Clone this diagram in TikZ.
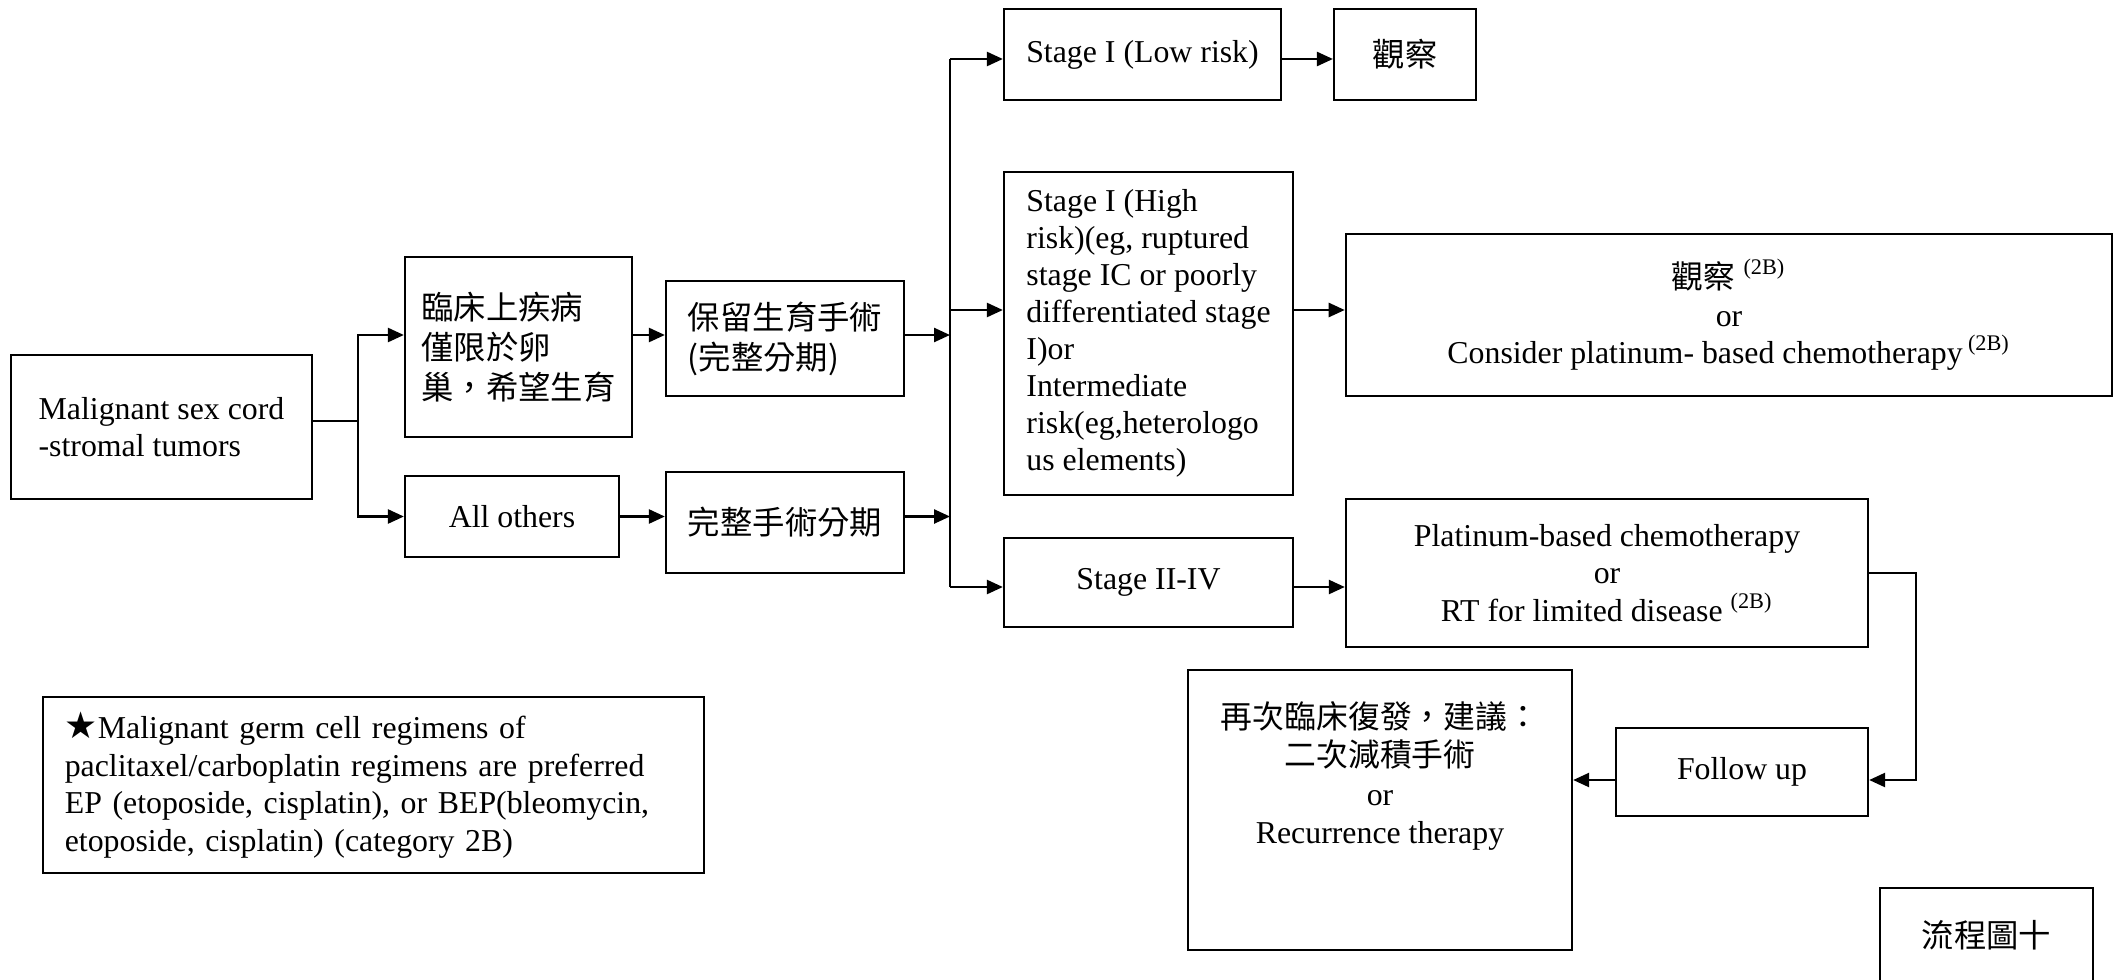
\documentclass[tikz,border=0pt]{standalone}
\usepackage{fontspec}
\setmainfont{Liberation Serif}
\newfontfamily\cjk{Noto Sans CJK TC}
\newfontfamily\symf{DejaVu Sans}
\usetikzlibrary{arrows.meta}
\begin{document}
\begin{tikzpicture}[x=0.01cm,y=-0.01cm,
  box/.style={draw, line width=0.6pt, inner sep=0pt, align=center, font=\fontsize{9.05}{10.7}\selectfont},
  lbox/.style={box, align=left},
  cjkf/.style={font=\cjk\fontsize{9.2}{11.4}\selectfont},
  txt/.style={inner sep=0pt, align=center, font=\fontsize{9.05}{10.9}\selectfont},
  ln/.style={line width=0.7pt},
  arr/.style={line width=0.7pt, -{Triangle[length=0.16cm,width=0.14cm]}}]
\useasboundingbox (0,0) rectangle (2119,979);

% boxes
\node[lbox, minimum width=3.01cm, minimum height=1.44cm] (A) at (161.5,427) {Malignant sex cord\\-stromal tumors};
\node[lbox, cjkf, minimum width=2.27cm, minimum height=1.80cm] (B) at (518.5,347) {臨床上疾病\\僅限於卵\\巢，希望生育};
\node[box, minimum width=2.14cm, minimum height=0.81cm] (C) at (512,516.5) {All others};
\node[lbox, cjkf, minimum width=2.38cm, minimum height=1.15cm] (D) at (785,338.5) {保留生育手術\\(完整分期)};
\node[box, cjkf, minimum width=2.38cm, minimum height=1.01cm] (E) at (785,522.5) {完整手術分期};
\node[box, minimum width=2.77cm, minimum height=0.91cm] (F) at (1142.5,54.5) {Stage I (Low risk)};
\node[box, cjkf, minimum width=1.42cm, minimum height=0.91cm] (F2) at (1405,54.5) {觀察};
\node[lbox, minimum width=2.89cm, minimum height=3.23cm, font=\fontsize{9.05}{10.5}\selectfont] (G) at (1148.5,333.5)
  {Stage I (High\\risk)(eg, ruptured\\stage IC or poorly\\differentiated stage\\I)or\\Intermediate\\risk(eg,heterologo\\us elements)};
\node[box, minimum width=2.89cm, minimum height=0.89cm] (H) at (1148.5,582.5) {Stage II-IV};
\node[box, minimum width=7.66cm, minimum height=1.62cm] (I) at (1729,315)
  {{\cjk 觀察} \textsuperscript{(2B)}\\or\\Consider platinum- based chemotherapy\,\textsuperscript{(2B)}};
\node[box, minimum width=5.22cm, minimum height=1.48cm] (J) at (1607,573)
  {Platinum-based chemotherapy\\or\\RT for limited disease \textsuperscript{(2B)}};
\node[box, minimum width=2.52cm, minimum height=0.88cm] (K) at (1742,772) {Follow up};
\node[box, minimum width=3.84cm, minimum height=2.80cm] (L) at (1380,810) {};
\node[txt] (Lt) at (1380,776) {{\cjk 再次臨床復發，建議：}\\{\cjk 二次減積手術}\\or\\Recurrence therapy};
\node[box, minimum width=2.13cm, minimum height=1.30cm] (M) at (1986.5,953) {};
\node[txt, cjkf] (Mt) at (1986.5,935) {流程圖十};
\node[box, align=left, text width=6.17cm, inner xsep=0.22cm, minimum height=1.76cm] (N) at (373.5,785)
  {{\symf\fontsize{10.5}{10}\selectfont ★}Malignant germ cell regimens of\\paclitaxel/carboplatin regimens are preferred\\EP (etoposide, cisplatin), or BEP(bleomycin,\\etoposide, cisplatin) (category 2B)};

% junction coordinates
\coordinate (j1) at (358,421);
\coordinate (jB) at (358,335);
\coordinate (jC) at (358,516.5);
\coordinate (vTop) at (950,59);
\coordinate (vD) at (950,335);
\coordinate (vG) at (950,310);
\coordinate (vE) at (950,516.5);
\coordinate (vBot) at (950,587);
\coordinate (r1) at (1916,573);
\coordinate (r2) at (1916,780);

% connectors
\draw[ln] (A.east|-j1) -- (j1);
\draw[arr] (j1) -- (jB) -- (B.west|-jB);
\draw[arr] (j1) -- (jC) -- (C.west|-jC);
\draw[arr] (B.east|-jB) -- (D.west|-jB);
\draw[arr] (C.east|-jC) -- (E.west|-jC);
\draw[arr] (D.east|-vD) -- (vD);
\draw[arr] (E.east|-vE) -- (vE);
\draw[ln] (vTop) -- (vBot);
\draw[arr] (vTop) -- (F.west|-vTop);
\draw[arr] (vG) -- (G.west|-vG);
\draw[arr] (vBot) -- (H.west|-vBot);
\draw[arr] (F.east|-vTop) -- (F2.west|-vTop);
\draw[arr] (G.east|-vG) -- (I.west|-vG);
\draw[arr] (H.east|-vBot) -- (J.west|-vBot);
\draw[arr] (J.east|-r1) -- (r1) -- (r2) -- (K.east|-r2);
\draw[arr] (K.west|-r2) -- (L.east|-r2);
\end{tikzpicture}
\end{document}
